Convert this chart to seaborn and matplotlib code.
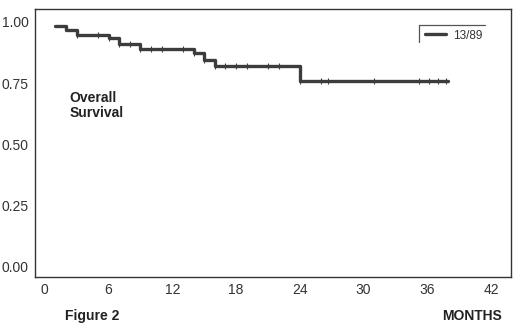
import numpy as np
import pandas as pd
import matplotlib
matplotlib.use("Agg")
import matplotlib.pyplot as plt
import seaborn as sns
from matplotlib.lines import Line2D

# --- Data ---
# Kaplan-Meier step curve: time (months) and survival after each step
step_months = [1, 2, 3, 6, 7, 9, 14, 15, 16, 24, 38]
step_surv = [0.984, 0.967, 0.948, 0.934, 0.910, 0.889, 0.873, 0.844, 0.820, 0.758, 0.758]

# censored observations (months)
censor_months = [3, 5, 6, 7, 8, 9, 10, 11, 13, 14, 15, 16, 17, 18, 19, 21, 22,
                 24, 26, 26.7, 31, 35.2, 36.2, 37, 37.8]

legend_label = "13/89"
x_ticks = [0, 6, 12, 18, 24, 30, 36, 42]
y_ticks = [0.0, 0.25, 0.5, 0.75, 1.0]

LINE_COL = "#3c3c3c"

df = pd.DataFrame({"months": step_months, "surv": step_surv})
cens = pd.DataFrame({"months": censor_months})
# survival value at censor times = value of the step in force
cens["surv"] = [df["surv"][df["months"] <= m].iloc[-1] for m in cens["months"]]

sns.set_style("white")
plt.rcParams["font.family"] = ["Liberation Sans", "DejaVu Sans"]

fig = plt.figure(figsize=(5.2, 3.35), dpi=100)
ax = fig.add_axes([0.067, 0.173, 0.916, 0.80])

sns.lineplot(data=df, x="months", y="surv", drawstyle="steps-post",
             color=LINE_COL, linewidth=2.4, ax=ax, label=legend_label)
sns.scatterplot(data=cens, x="months", y="surv", marker="|", s=25,
                color=LINE_COL, linewidth=0.8, ax=ax, legend=False)

ax.set_xlim(-0.94, 43.9)
ax.set_ylim(-0.045, 1.053)
ax.set_xticks(x_ticks)
ax.set_yticks(y_ticks)
ax.set_yticklabels([f"{v:.2f}" for v in y_ticks])
ax.set_xlabel("")
ax.set_ylabel("")
ax.tick_params(axis="both", labelsize=10, colors="#333333", length=2.5,
               width=0.8, direction="in", pad=4)
ax.tick_params(axis="y", direction="out", pad=2)
for sp in ax.spines.values():
    sp.set_color("#333333")
    sp.set_linewidth(1.0)

# legend with half frame
leg = ax.legend(loc="upper right", bbox_to_anchor=(0.955, 0.95), frameon=False,
                fontsize=8.5, handlelength=1.8, handletextpad=0.6,
                borderaxespad=0.2, labelcolor="#333333")
ax.add_line(Line2D([0.807, 0.945], [0.940, 0.940], transform=ax.transAxes,
                   color="#555555", linewidth=0.9))
ax.add_line(Line2D([0.807, 0.807], [0.940, 0.877], transform=ax.transAxes,
                   color="#555555", linewidth=0.9))

ax.text(2.35, 0.718, "Overall\nSurvival", fontsize=10, fontweight="bold",
        color="#222222", ha="left", va="top", linespacing=1.15)

fig.text(0.125, 0.057, "Figure 2", fontsize=10, fontweight="bold",
         color="#222222", ha="left", va="center")
fig.text(0.966, 0.057, "MONTHS", fontsize=10, fontweight="bold",
         color="#222222", ha="right", va="center")

fig.savefig("out.png", dpi=100)
